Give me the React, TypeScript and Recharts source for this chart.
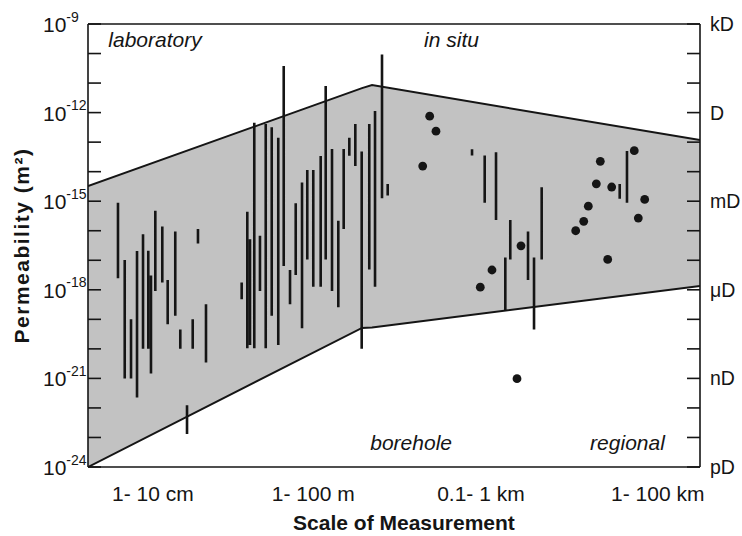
import React from 'react'
import { ComposedChart, Area, Line, Scatter, XAxis, YAxis, ReferenceDot } from 'recharts'

const FONT = '"Liberation Sans", Arial, Helvetica, sans-serif'
const INK = '#151515'
const SHADE = '#c2c2c2'

// x runs 0..100 across the plot (scale classes, not to scale)
const scaleTicks = [10.6, 36.8, 64.2, 93.1]
const scaleLabels = ['1- 10 cm', '1- 100 m', '0.1- 1 km', '1- 100 km']

// log10 of permeability in m2
const permTicks = [-24, -23, -22, -21, -20, -19, -18, -17, -16, -15, -14, -13, -12, -11, -10, -9]
const darcyNames = ['pD', 'nD', 'μD', 'mD', 'D', 'kD'] // at -24, -21, ... -9

// grey envelope
const envX = [0, 44.77, 46.41, 100]
const envLow = [-24, -19.29, -19.28, -17.87]
const envHigh = [-14.49, -11.17, -11.07, -12.93]

// measured ranges (vertical bars)
const rangeX = [
  4.9, 6.0, 7.03, 8.01, 8.99, 9.85, 10.29, 11.0, 12.14, 13.02, 14.26, 15.08, 16.18, 17.11, 17.97, 19.28,
  25.11, 26.03, 26.47, 27.17, 28.1, 29.04, 30.02, 31.09, 31.98, 33.01, 33.94, 34.97, 35.83, 36.81,
  38.02, 38.84, 39.87, 40.9, 41.78, 42.7, 43.68, 44.72, 45.96, 46.9, 48.04, 48.97,
  62.75, 64.82, 66.67, 68.19, 69.0, 71.9, 72.88, 74.13,
  86.88, 88.07,
]
const rangeHigh = [
  -15.05, -16.99, -19.0, -16.69, -16.12, -16.68, -17.52, -15.32, -15.86, -17.67, -16.03, -19.34, -21.91, -19.0, -15.94, -18.49,
  -17.75, -15.36, -16.29, -12.34, -16.17, -12.39, -12.5, -12.85, -10.42, -17.33, -15.07, -14.37, -13.94, -13.94,
  -13.47, -11.1, -13.23, -15.66, -13.23, -12.85, -12.39, -13.32, -12.39, -11.95, -10.03, -14.42,
  -13.24, -13.45, -13.34, -16.91, -15.64, -16.03, -16.91, -14.53,
  -14.42, -13.3,
]
const rangeLow = [
  -17.61, -21.0, -21.0, -21.65, -20.0, -20.0, -20.83, -18.04, -17.75, -19.17, -18.88, -20.0, -22.88, -20.0, -16.43, -20.46,
  -18.32, -19.98, -19.87, -19.98, -18.04, -19.98, -18.88, -19.87, -17.19, -18.49, -17.5, -19.3, -16.97, -17.9,
  -17.9, -16.97, -18.04, -18.59, -15.94, -13.46, -13.81, -20.0, -17.31, -17.9, -14.9, -14.81,
  -13.45, -15.05, -15.64, -18.71, -16.97, -17.67, -19.34, -16.97,
  -14.92, -15.05,
]

// single values (dots)
const pointX = [55.83, 56.86, 54.69, 70.75, 66.01, 64.1, 70.1, 89.26, 83.71, 83.06, 85.57, 90.96, 81.75, 89.92, 81.0, 79.69, 84.92]
const pointK = [-12.12, -12.63, -13.81, -16.51, -17.33, -17.91, -21.01, -13.29, -13.65, -14.41, -14.52, -14.94, -15.17, -15.57, -15.68, -16.0, -16.97]

// region captions
const captionText = ['laboratory', 'in situ', 'borehole', 'regional']
const captionX = [10.95, 59.4, 52.8, 88.15]
const captionK = [-9.78, -9.78, -23.42, -23.42]

const envData = envX.map((x, i) => ({ x, band: [envLow[i], envHigh[i]] }))
const rangeData = rangeX.flatMap((x, i) => [
  { x, k: rangeLow[i] },
  { x, k: rangeHigh[i] },
  { x, k: null },
])
const pointData = pointX.map((x, i) => ({ x, k: pointK[i] }))

const LeftTick = (props: any) => {
  const { x, y, payload } = props
  const v = payload.value
  return (
    <g>
      <line x1={x} y1={y} x2={x + 13} y2={y} stroke={INK} strokeWidth={1.6} />
      {v % 3 === 0 && (
        <text x={x - 45} y={y + 8} fontSize={21} fontFamily={FONT} fill={INK}>
          10
          <tspan dy={-10.5} fontSize={14}>
            {String(v)}
          </tspan>
        </text>
      )}
    </g>
  )
}

const RightTick = (props: any) => {
  const { x, y, payload } = props
  const v = payload.value
  return (
    <g>
      <line x1={x} y1={y} x2={x - 13} y2={y} stroke={INK} strokeWidth={1.6} />
      {v % 3 === 0 && (
        <text x={x + 10} y={y + 7} fontSize={19.5} fontFamily={FONT} fill={INK}>
          {darcyNames[(v + 24) / 3]}
        </text>
      )}
    </g>
  )
}

const BottomTick = (props: any) => {
  const { x, y, payload } = props
  const i = scaleTicks.indexOf(payload.value)
  return (
    <text x={x} y={y + 34} textAnchor="middle" fontSize={21} fontFamily={FONT} fill={INK}>
      {scaleLabels[i]}
    </text>
  )
}

export default function App() {
  return (
    <div style={{ position: 'absolute', left: 0, top: 0, width: 742, height: 536, background: '#fff' }}>
      <ComposedChart width={742} height={536} margin={{ top: 0, right: 0, bottom: 0, left: 0 }}>
        <XAxis
          xAxisId="b"
          type="number"
          dataKey="x"
          domain={[0, 100]}
          allowDataOverflow
          ticks={scaleTicks}
          interval={0}
          tick={<BottomTick />}
          tickLine={false}
          tickSize={0}
          tickMargin={0}
          height={69}
          axisLine={{ stroke: INK, strokeWidth: 1.6 }}
          label={(p: any) => {
            const vb = p.viewBox
            return (
              <text
                x={vb.x + vb.width / 2 + 10}
                y={vb.y + 63}
                textAnchor="middle"
                fontSize={21}
                fontWeight="bold"
                fontFamily={FONT}
                fill={INK}
              >
                Scale of Measurement
              </text>
            )
          }}
        />
        <XAxis
          xAxisId="t"
          orientation="top"
          type="number"
          domain={[0, 100]}
          tick={false}
          tickLine={false}
          height={24}
          axisLine={{ stroke: INK, strokeWidth: 1.6 }}
        />
        <YAxis
          yAxisId="l"
          type="number"
          domain={[-24, -9]}
          allowDataOverflow
          ticks={permTicks}
          interval={0}
          tick={<LeftTick />}
          tickLine={false}
          tickSize={0}
          tickMargin={0}
          width={88}
          axisLine={{ stroke: INK, strokeWidth: 1.6 }}
          label={(p: any) => {
            const vb = p.viewBox
            const cx = vb.x + 29
            const cy = vb.y + vb.height / 2
            return (
              <text
                x={cx}
                y={cy}
                transform={`rotate(-90 ${cx} ${cy})`}
                textAnchor="middle"
                fontSize={21}
                fontWeight="bold"
                letterSpacing={1.5}
                fontFamily={FONT}
                fill={INK}
              >
                Permeability (m²)
              </text>
            )
          }}
        />
        <YAxis
          yAxisId="r"
          orientation="right"
          type="number"
          domain={[-24, -9]}
          allowDataOverflow
          ticks={permTicks}
          interval={0}
          tick={<RightTick />}
          tickLine={false}
          tickSize={0}
          tickMargin={0}
          width={42}
          axisLine={{ stroke: INK, strokeWidth: 1.6 }}
        />

        <Area
          xAxisId="b"
          yAxisId="l"
          data={envData}
          dataKey="band"
          type="linear"
          fill={SHADE}
          fillOpacity={1}
          stroke={INK}
          strokeWidth={2}
          dot={false}
          activeDot={false}
          isAnimationActive={false}
        />
        <Line
          xAxisId="b"
          yAxisId="l"
          data={rangeData}
          dataKey="k"
          type="linear"
          stroke={INK}
          strokeWidth={2.6}
          strokeLinecap="butt"
          dot={false}
          activeDot={false}
          connectNulls={false}
          isAnimationActive={false}
        />
        <Scatter
          xAxisId="b"
          yAxisId="l"
          data={pointData}
          dataKey="k"
          fill={INK}
          shape={(p: any) => <circle cx={p.cx} cy={p.cy} r={4.4} fill={INK} />}
          isAnimationActive={false}
        />

        {captionText.map((t, i) => (
          <ReferenceDot
            key={t}
            xAxisId="b"
            yAxisId="l"
            x={captionX[i]}
            y={captionK[i]}
            r={1}
            shape={(p: any) => (
              <text
                x={p.cx}
                y={p.cy}
                textAnchor="middle"
                fontSize={21}
                fontStyle="italic"
                fontFamily={FONT}
                fill={INK}
              >
                {t}
              </text>
            )}
          />
        ))}
      </ComposedChart>
    </div>
  )
}
